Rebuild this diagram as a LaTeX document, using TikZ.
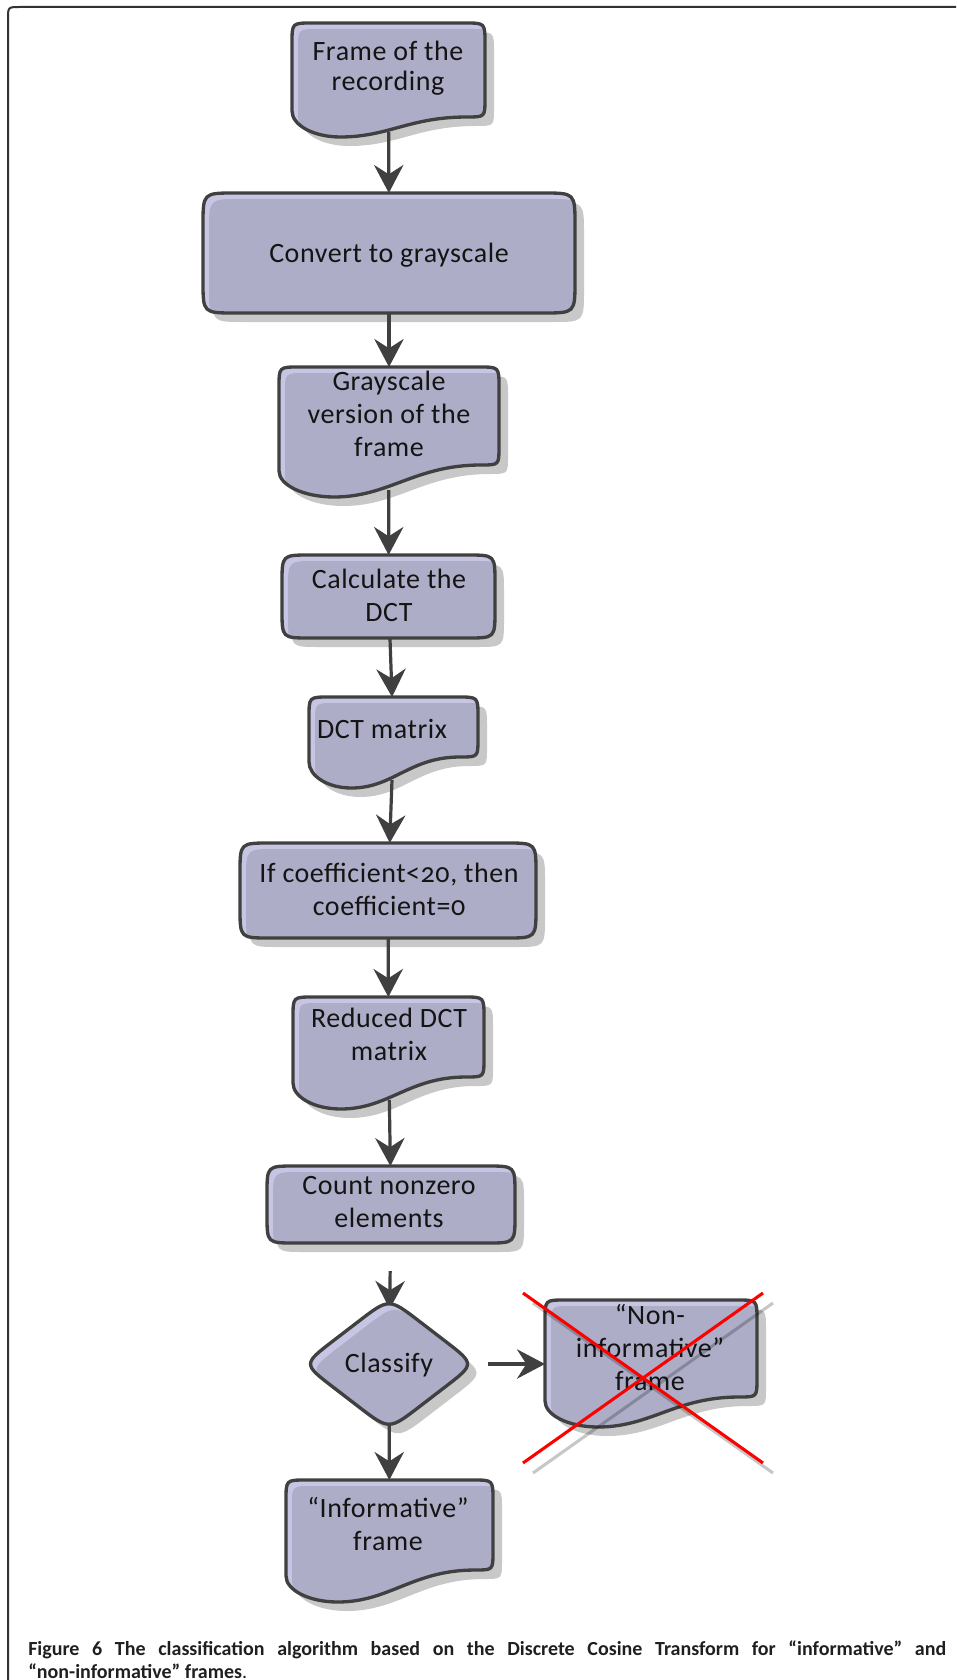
\documentclass[tikz,border=0pt]{standalone}
\usepackage{fontspec}
\setmainfont{Carlito}
\newfontfamily\boxfont{Carlito}[Numbers=OldStyle, LetterSpace=2]
\usetikzlibrary{arrows.meta,backgrounds}
\definecolor{boxfill}{RGB}{173,173,199}
\definecolor{boxlight}{RGB}{198,198,228}
\definecolor{boxborder}{RGB}{64,64,64}
\definecolor{shadowgray}{RGB}{200,200,200}
\definecolor{arrowgray}{RGB}{64,64,64}

% document shape: xL xR yT yR yL
\newcommand\docpath[5]{({#1},{#3+20}) .. controls ({#1},{#3}) .. ({#1+20},{#3}) -- ({#2-20},{#3}) .. controls ({#2},{#3}) .. ({#2},{#3+20}) -- ({#2},{#4-18}) .. controls ({#2},{#4}) .. ({#2-18},{#4}) .. controls ({#2-18-0.3*(#2-#1)},{#4}) and ({#1+0.5*(#2-#1)},{#5}) .. ({#1+0.25*(#2-#1)},{#5}) .. controls ({#1+0.11*(#2-#1)},{#5}) and ({#1},{#5-12}) .. ({#1},{#5-26}) -- cycle}
% rounded rectangle: xL xR yT yB r
\newcommand\rrpath[5]{({#1},{#3+#5}) .. controls ({#1},{#3}) .. ({#1+#5},{#3}) -- ({#2-#5},{#3}) .. controls ({#2},{#3}) .. ({#2},{#3+#5}) -- ({#2},{#4-#5}) .. controls ({#2},{#4}) .. ({#2-#5},{#4}) -- ({#1+#5},{#4}) .. controls ({#1},{#4}) .. ({#1},{#4-#5}) -- cycle}
% rounded diamond: cx cy a b
\newcommand\diapath[4]{({#1-0.35*#3},{#2-0.65*#4}) .. controls ({#1},{#2-#4}) .. ({#1+0.35*#3},{#2-0.65*#4}) -- ({#1+0.65*#3},{#2-0.35*#4}) .. controls ({#1+#3},{#2}) .. ({#1+0.65*#3},{#2+0.35*#4}) -- ({#1+0.35*#3},{#2+0.65*#4}) .. controls ({#1},{#2+#4}) .. ({#1-0.35*#3},{#2+0.65*#4}) -- ({#1-0.65*#3},{#2+0.35*#4}) .. controls ({#1-#3},{#2}) .. ({#1-0.65*#3},{#2-0.35*#4}) -- cycle}

\newcommand\fancyshape[1]{%
  \begin{pgfonlayer}{background}\fill[shadowgray, shift={(9,9)}] #1;\end{pgfonlayer}
  \fill[boxlight] #1;
  \begin{scope}\clip #1; \fill[boxfill, shift={(6,6)}] #1;\end{scope}
  \draw[boxborder, line width=2.5pt, line join=round] #1;}

\newcommand\region[5]{\node[region, minimum width={(#3-#2)*0.75pt}, minimum height={(#5-#4)*0.75pt}] (#1) at ({(#2+#3)/2},{(#4+#5)/2}) {};}

\tikzset{
  region/.style={rectangle, inner sep=0pt, outer sep=0pt, draw=none},
  txt/.style={align=center, inner sep=0pt, font=\boxfont\fontsize{21}{24.75}\selectfont, text=black!92},
  conn/.style={draw=arrowgray, line width=2.4pt, -{Stealth[length=21pt, width=22pt, inset=7pt]}},
  capt/.style={text width=688.5pt, align=justify, inner sep=0pt, anchor=north west, font=\fontsize{15}{17.5}\selectfont\bfseries, text=black!88},
  xline/.style={red, line width=2.3pt},
  xshadow/.style={black, opacity=0.22, line width=2.3pt}
}

\begin{document}
\begin{tikzpicture}[x=0.75pt, y=-0.75pt]
\useasboundingbox (0,0) rectangle (956,1680);
\draw[line width=1.5pt, black!80] (8,1680) -- (8,19) .. controls (8,7) .. (20,7) -- (956,7);

% shapes
\fancyshape{\docpath{292}{485}{23}{117}{137}}
\fancyshape{\rrpath{203}{575}{193}{313}{32}}
\fancyshape{\docpath{279}{499}{367}{465}{497}}
\fancyshape{\rrpath{282}{495}{555}{638}{28}}
\fancyshape{\docpath{309}{478}{697}{757}{788}}
\fancyshape{\rrpath{240}{536}{843}{938}{30}}
\fancyshape{\docpath{293}{484}{997}{1077}{1109}}
\fancyshape{\rrpath{267}{515}{1166}{1243}{28}}
\fancyshape{\diapath{389}{1364}{86}{66}}
\fancyshape{\docpath{545}{757}{1300}{1397}{1427}}
\fancyshape{\docpath{286}{493}{1480}{1570}{1602}}

% regions (connector targets)
\region{n1}{292}{485}{23}{132}
\region{n2}{203}{575}{193}{313}
\region{n3}{279}{499}{367}{490}
\region{n4}{282}{495}{555}{638}
\region{n5}{309}{478}{697}{780}
\region{n6}{240}{536}{843}{938}
\region{n7}{293}{484}{997}{1100}
\region{n8}{267}{515}{1166}{1243}
\region{n9}{318}{460}{1309}{1419}
\region{n11}{545}{757}{1300}{1420}
\region{n12}{286}{493}{1480}{1595}

% texts
\node[txt, font=\boxfont\fontsize{21}{22.5}\selectfont] (t1) at (388,68) {Frame of the\\recording};
\node[txt] (t2) at (389,255) {Convert to grayscale};
\node[txt] (t3) at (389,414) {Grayscale\\version of the\\frame};
\node[txt] (t4) at (389,595) {Calculate the\\DCT};
\node[txt] (t5) at (382,729) {DCT matrix};
\node[txt] (t6) at (389,889) {If coefficient<20, then\\coefficient=0};
\node[txt] (t7) at (389,1034) {Reduced DCT\\matrix};
\node[txt] (t8) at (389,1202) {Count nonzero\\elements};
\node[txt] (t9) at (389,1365) {Classify};
\node[txt] (t11) at (650,1347) {“Non-\\informative”\\frame};
\node[txt] (t12) at (388,1524) {“Informative”\\frame};

% connectors
\begin{pgfonlayer}{background}
\draw[conn] (n1) -- (n2);
\draw[conn] (n2) -- (n3);
\draw[conn] (n3) -- (n4);
\draw[conn] (n4) -- (n5);
\draw[conn] (n5) -- (n6);
\draw[conn] (n6) -- (n7);
\draw[conn] (n7) -- (n8);
\draw[conn, shorten <=21pt] (n8) -- (n9);
\draw[conn] (n9) -- (n12);
\draw[conn, shorten <=21pt] (n9.east) -- (n9.east -| n11.west);
\end{pgfonlayer}

% crossing-out
\draw[xshadow] (533,1303) -- (773,1473);
\draw[xshadow] (773,1303) -- (533,1473);
\draw[xline] (523,1293) -- (763,1463);
\draw[xline] (763,1293) -- (523,1463);

% caption
\node[capt] (caption) at (28,1640) {Figure 6 The classification algorithm based on the Discrete Cosine Transform for “informative” and\linebreak “non-informative” frames\textmd{.}};
\end{tikzpicture}
\end{document}
